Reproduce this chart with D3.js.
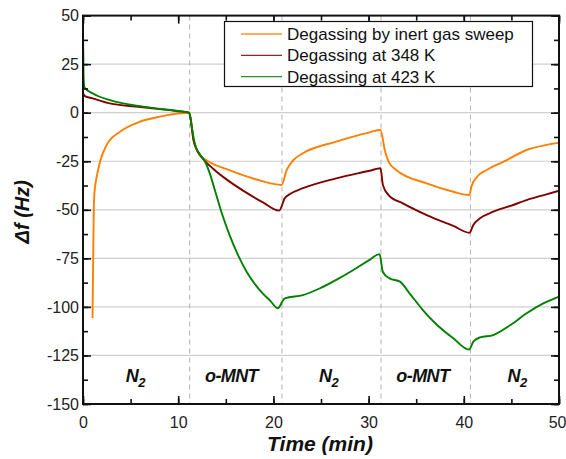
<!DOCTYPE html>
<html>
<head>
<meta charset="utf-8">
<script src="https://cdn.jsdelivr.net/npm/d3@7"></script>
<style>
html,body{margin:0;padding:0;background:#fff;}
svg{display:block;}
</style>
</head>
<body>
<svg id="chart" width="566" height="459"></svg>
<script>
// ---- data ----
const xTicks = [0, 10, 20, 30, 40, 50];
const yTicks = [50, 25, 0, -25, -50, -75, -100, -125, -150];
const gridY = [25, 0, -25, -50, -75, -100, -125];
const switchTimes = [11.2, 20.9, 31.3, 40.7];
const phaseNames = ["N", "o-MNT", "N", "o-MNT", "N"];
const phaseSubs = ["2", "", "2", "", "2"];
const phaseCenters = [5.5, 15.6, 25.8, 35.7, 45.6];
const seriesNames = ["Degassing by inert gas sweep", "Degassing at 348 K", "Degassing at 423 K"];
const seriesColors = ["#ff8000", "#800000", "#008000"];

const inertT = [1.0, 1.07, 1.16, 1.3, 1.44, 1.79, 2.49, 3.89, 6.0, 8.1, 10.2, 11.15, 11.3, 11.6, 11.9, 12.3, 12.8, 13.7, 15.4, 17.2, 18.9, 20.85, 21.4, 22.1, 23.1, 26.6, 30.1, 31.25, 31.7, 32.1, 32.9, 36.1, 38.9, 40.6, 40.8, 41.4, 42.4, 44.2, 46.6, 48.7, 50];
const inertV = [-105.7, -75, -45, -37, -33, -25.2, -16.6, -9.8, -4.6, -2, -0.3, 0, -3, -14, -18.5, -22.2, -24, -26.5, -29.6, -32.8, -35.4, -37.2, -29.5, -24.4, -20.9, -14.9, -10.1, -8.9, -19.2, -25.2, -29.5, -36.4, -40.7, -42.4, -38, -33, -29.5, -25.2, -19.2, -16.6, -15.4];

const k348T = [0, 0.2, 1, 2.8, 6.3, 9.8, 11.15, 11.3, 11.6, 11.9, 12.3, 13.7, 15.4, 17.2, 18.9, 20.6, 21.2, 21.7, 23.1, 26.6, 30.1, 31.25, 31.5, 32.1, 33.6, 36.1, 38.9, 40.6, 41.0, 41.7, 43.1, 44.9, 46.6, 48.4, 50];
const k348V = [10, 8.5, 7.4, 4.8, 2.8, 0.9, 0, -3, -14, -18.5, -21.8, -29, -35.5, -41.3, -46.2, -50.4, -44, -42, -38.9, -33.8, -29.9, -28.6, -37.2, -42.4, -46.7, -52.7, -58.3, -61.8, -57.8, -54.4, -51, -48, -45, -42.4, -40.2];

const k423T = [0, 0.02, 0.06, 0.15, 1, 3, 6.3, 9.8, 11.15, 11.4, 11.66, 11.9, 12.3, 12.8, 13.3, 13.8, 14.6, 15.4, 16.3, 17.2, 18.1, 18.9, 19.7, 20.45, 21.2, 23.1, 24.9, 26.6, 28.4, 30.1, 31.15, 31.5, 32.2, 33.3, 34.3, 35.7, 37.2, 38.9, 40.55, 41.0, 41.7, 43.1, 44.9, 46.6, 48.4, 50];
const k423V = [-7, 37, 18, 13, 10, 6.2, 3.1, 1, 0, -6.3, -14, -18.3, -21.6, -25, -31, -39, -52, -63, -73.5, -82, -88.5, -93.2, -97, -100.7, -95.6, -93.9, -90.4, -86.1, -81, -75.8, -72.8, -82, -85.3, -87, -93, -101.6, -109.3, -116.2, -122, -117.9, -115.7, -114.5, -109.3, -103.3, -98.1, -94.7];

// ---- layout ----
const svg = d3.select("#chart");
const L = 83, R = 559, T = 15.6, B = 404;
const x = d3.scaleLinear().domain([0, 50]).range([L, R]);
const y = d3.scaleLinear().domain([-150, 50]).range([B, T]);

// grid
svg.append("g").selectAll("line").data(gridY).join("line")
  .attr("x1", L).attr("x2", R)
  .attr("y1", d => y(d)).attr("y2", d => y(d))
  .attr("stroke", "#cfcfcf").attr("stroke-width", 1.2);

// switch lines
svg.append("g").selectAll("line").data(switchTimes).join("line")
  .attr("x1", d => x(d)).attr("x2", d => x(d))
  .attr("y1", T).attr("y2", B)
  .attr("stroke", "#b8b8b8").attr("stroke-width", 1.1)
  .attr("stroke-dasharray", "5,4");

// series
const series = [
  {t: inertT, v: inertV},
  {t: k348T, v: k348V},
  {t: k423T, v: k423V}
];
const line = d3.line().x(d => x(d[0])).y(d => y(d[1])).curve(d3.curveMonotoneX);
series.forEach((s, i) => {
  const pts = s.t.map((t, j) => [t, s.v[j]]);
  svg.append("path").attr("d", line(pts))
    .attr("fill", "none").attr("stroke", seriesColors[i])
    .attr("stroke-width", 1.9).attr("stroke-linejoin", "round");
});

// axes (ticks inside)
const fmt = d => d3.format("d")(d).replace("−", "-");
const xMinor = d3.range(0, 51, 5);
const yMinor = d3.range(-150, 51, 12.5);
function addAxis(gen, tr, labels) {
  const g = svg.append("g").attr("transform", tr).call(gen);
  g.select(".domain").remove();
  g.selectAll(".tick line").attr("stroke", "#111").attr("stroke-width", 1.6);
  g.selectAll(".tick text").attr("fill", "#222")
    .style("font-family", "Liberation Sans, Arial, sans-serif").style("font-size", "16px");
  if (!labels) g.selectAll(".tick text").remove();
  return g;
}
addAxis(d3.axisBottom(x).tickValues(xMinor).tickSize(-5).tickFormat(""), `translate(0,${B})`, false);
const xg = addAxis(d3.axisBottom(x).tickValues(xTicks).tickSize(-8).tickPadding(13).tickFormat(fmt), `translate(0,${B})`, true);
xg.selectAll(".tick text").filter(d => d === 50).attr("text-anchor", "end").attr("x", 7);
addAxis(d3.axisTop(x).tickValues(xMinor).tickSize(-5).tickFormat(""), `translate(0,${T})`, false);
addAxis(d3.axisTop(x).tickValues(xTicks).tickSize(-8).tickFormat(""), `translate(0,${T})`, false);
addAxis(d3.axisLeft(y).tickValues(yMinor).tickSize(-5).tickFormat(""), `translate(${L},0)`, false);
addAxis(d3.axisLeft(y).tickValues(yTicks).tickSize(-8).tickPadding(6).tickFormat(fmt), `translate(${L},0)`, true)
  .selectAll(".tick text").attr("x", -4);
addAxis(d3.axisRight(y).tickValues(yMinor).tickSize(-5).tickFormat(""), `translate(${R},0)`, false);
addAxis(d3.axisRight(y).tickValues(yTicks).tickSize(-8).tickFormat(""), `translate(${R},0)`, false);

// frame
svg.append("rect").attr("x", L).attr("y", T).attr("width", R - L).attr("height", B - T)
  .attr("fill", "none").attr("stroke", "#111").attr("stroke-width", 2);

// phase labels
const ph = svg.append("g")
  .style("font-family", "Liberation Sans, Arial, sans-serif")
  .style("font-weight", "bold").style("font-style", "italic");
phaseNames.forEach((n, i) => {
  const t = ph.append("text").attr("x", x(phaseCenters[i])).attr("y", 382)
    .attr("text-anchor", "middle").style("font-size", "18px").attr("fill", "#111")
    .style("letter-spacing", "-0.6px");
  t.append("tspan").text(n);
  if (phaseSubs[i]) t.append("tspan").attr("dy", 5).style("font-size", "13px").text(phaseSubs[i]);
});

// axis titles
svg.append("text").attr("x", (L + R) / 2 - 1).attr("y", 451)
  .attr("text-anchor", "middle")
  .style("font-family", "Liberation Sans, Arial, sans-serif")
  .style("font-weight", "bold").style("font-style", "italic").style("font-size", "21px")
  .attr("fill", "#111").text("Time (min)");
svg.append("text")
  .attr("transform", `translate(29,${(T + B) / 2 + 2}) rotate(-90)`)
  .attr("text-anchor", "middle")
  .style("font-family", "Liberation Sans, Arial, sans-serif")
  .style("font-weight", "bold").style("font-style", "italic").style("font-size", "20px")
  .attr("fill", "#111").text("Δf (Hz)");

// legend
const lg = svg.append("g");
lg.append("rect").attr("x", 224.5).attr("y", 21.5).attr("width", 308).attr("height", 65)
  .attr("fill", "#fff").attr("stroke", "#111").attr("stroke-width", 1.2);
seriesNames.forEach((n, i) => {
  const yy = 34 + i * 21.3;
  lg.append("line").attr("x1", 241).attr("x2", 282).attr("y1", yy).attr("y2", yy)
    .attr("stroke", seriesColors[i]).attr("stroke-width", 1.3).attr("opacity", 0.85);
  lg.append("text").attr("x", 287).attr("y", yy + 6)
    .style("font-family", "Liberation Sans, Arial, sans-serif").style("font-size", "17px")
    .attr("fill", "#111").text(n);
});
</script>
</body>
</html>
